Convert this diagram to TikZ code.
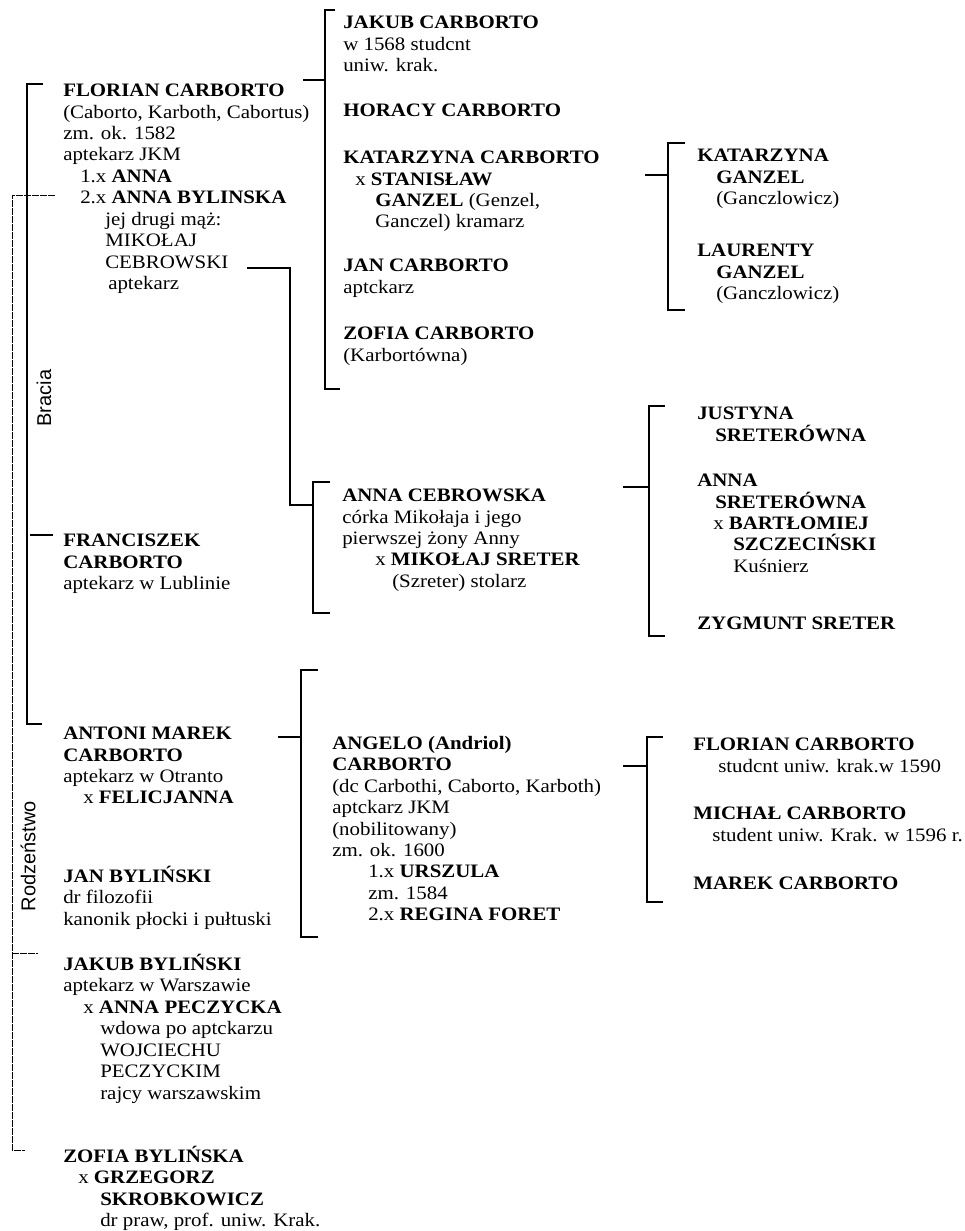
\documentclass[tikz,border=0pt]{standalone}
\usepackage{fontspec}
\setmainfont{Liberation Serif}[FakeStretch=1.1]
\setsansfont{Liberation Sans}
\usepackage{tikz}

\begin{document}
\begin{tikzpicture}[x=0.75pt, y=-0.75pt,
  person/.style={anchor=north west, inner sep=0pt, align=left, yshift=4.7pt,
    font=\fontsize{14.25}{16.1}\selectfont},
  side/.style={rotate=90, inner sep=0pt, font=\sffamily\fontsize{15}{18}\selectfont},
  line/.style={line width=1pt},
  rodz/.style={line width=0.7pt, dash pattern=on 5pt off 1pt}]
\useasboundingbox (0,0) rectangle (964,1231);

% first column
\node[person] (florian) at (63,90) {\textbf{FLORIAN CARBORTO}\\
  (Caborto, Karboth, Cabortus)\\
  zm. ok. 1582\\
  aptekarz JKM\\
  \hspace*{12.75pt}1.x \textbf{ANNA}\\
  \hspace*{12.75pt}2.x \textbf{ANNA BYLINSKA}\\
  \hspace*{31.5pt}jej drugi mąż:\\
  \hspace*{31.5pt}MIKOŁAJ\\
  \hspace*{31.5pt}CEBROWSKI\\
  \hspace*{33.75pt}aptekarz};
\node[person] (franciszek) at (63,540) {\textbf{FRANCISZEK}\\
  \textbf{CARBORTO}\\
  aptekarz w Lublinie};
\node[person] (antoni) at (63,733) {\textbf{ANTONI MAREK}\\
  \textbf{CARBORTO}\\
  aptekarz w Otranto\\
  \hspace*{15pt}x \textbf{FELICJANNA}};
\node[person] (janB) at (63,872) {\textbf{JAN BYLIŃSKI}\\
  dr filozofii\\
  kanonik płocki i pułtuski};
\node[person] (jakubB) at (63,960) {\textbf{JAKUB BYLIŃSKI}\\
  aptekarz w Warszawie\\
  \hspace*{15pt}x \textbf{ANNA PECZYCKA}\\
  \hspace*{27.75pt}wdowa po aptckarzu\\
  \hspace*{27.75pt}WOJCIECHU\\
  \hspace*{27.75pt}PECZYCKIM\\
  \hspace*{27.75pt}rajcy warszawskim};
\node[person] (zofiaB) at (63,1152) {\textbf{ZOFIA BYLIŃSKA}\\
  \hspace*{11.25pt}x \textbf{GRZEGORZ}\\
  \hspace*{27.75pt}\textbf{SKROBKOWICZ}\\
  \hspace*{27.75pt}dr praw, prof. uniw. Krak.};

% second column
\node[person] (jakub) at (343,22) {\textbf{JAKUB CARBORTO}\\
  w 1568 studcnt\\
  uniw. krak.};
\node[person] (horacy) at (343,110) {\textbf{HORACY CARBORTO}};
\node[person] (katarzyna) at (343,157) {\textbf{KATARZYNA CARBORTO}\\
  \hspace*{9pt}x \textbf{STANISŁAW}\\
  \hspace*{24pt}\textbf{GANZEL} (Genzel,\\
  \hspace*{24pt}Ganczel) kramarz};
\node[person] (jan) at (343,265) {\textbf{JAN CARBORTO}\\
  aptckarz};
\node[person] (zofia) at (343,333) {\textbf{ZOFIA CARBORTO}\\
  (Karbortówna)};
\node[person] (cebrowska) at (342,495) {\textbf{ANNA CEBROWSKA}\\
  córka Mikołaja i jego\\
  pierwszej żony Anny\\
  \hspace*{24.75pt}x \textbf{MIKOŁAJ SRETER}\\
  \hspace*{37.5pt}(Szreter) stolarz};
\node[person] (angelo) at (332,742) {\textbf{ANGELO (Andriol)}\\
  \textbf{CARBORTO}\\
  (dc Carbothi, Caborto, Karboth)\\
  aptckarz JKM\\
  (nobilitowany)\\
  zm. ok. 1600\\
  \hspace*{27pt}1.x \textbf{URSZULA}\\
  \hspace*{27pt}zm. 1584\\
  \hspace*{27pt}2.x \textbf{REGINA FORET}};

% third column
\node[person] (katG) at (697,155) {\textbf{KATARZYNA}\\
  \hspace*{14.25pt}\textbf{GANZEL}\\
  \hspace*{14.25pt}(Ganczlowicz)};
\node[person] (laurenty) at (697,250) {\textbf{LAURENTY}\\
  \hspace*{14.25pt}\textbf{GANZEL}\\
  \hspace*{14.25pt}(Ganczlowicz)};
\node[person] (justyna) at (697,413) {\textbf{JUSTYNA}\\
  \hspace*{13.5pt}\textbf{SRETERÓWNA}};
\node[person] (annaS) at (697,480) {\textbf{ANNA}\\
  \hspace*{13.5pt}\textbf{SRETERÓWNA}\\
  \hspace*{12pt}x \textbf{BARTŁOMIEJ}\\
  \hspace*{27pt}\textbf{SZCZECIŃSKI}\\
  \hspace*{27pt}Kuśnierz};
\node[person] (zygmunt) at (697,623) {\textbf{ZYGMUNT SRETER}};
\node[person] (florianJr) at (693,744) {\textbf{FLORIAN CARBORTO}\\
  \hspace*{18.75pt}studcnt uniw. krak.w 1590};
\node[person] (michal) at (693,813) {\textbf{MICHAŁ CARBORTO}\\
  \hspace*{14.25pt}student uniw. Krak. w 1596 r.};
\node[person] (marek) at (693,883) {\textbf{MAREK CARBORTO}};

% Bracia
\coordinate (brTop) at (27,84);
\coordinate (brMid) at (27,535);
\coordinate (brBot) at (27,724);
\draw[line] (brTop) ++(16,0) -- (brTop) -- (brBot) -- ++(15,0);
\draw[line] (brMid) ++(3,0) -- ++(23,0);
\node[side] (bracia) at (44,398) {Bracia};

% Rodzenstwo
\coordinate (rdTop) at (12,195);
\coordinate (rdMid) at (12,953);
\coordinate (rdBot) at (12,1150);
\draw[rodz] (rdTop) ++(43,0) -- (rdTop) -- (rdBot) -- ++(13,0);
\draw[rodz] (rdMid) -- ++(26,0);
\node[side] (rodzenstwo) at (28,856) {Rodzeństwo};

% children of Florian
\coordinate (flOut) at (303,80);
\coordinate (fkTop) at (325,10);
\coordinate (fkBot) at (325,389);
\draw[line] (fkTop) ++(10,0) -- (fkTop) -- (fkBot) -- ++(15,0);
\draw[line] (flOut) -- (flOut -| fkTop);

% children of Katarzyna
\coordinate (kaOut) at (645,175);
\coordinate (kgTop) at (668,143);
\coordinate (kgBot) at (668,310);
\draw[line] (kgTop) ++(17,0) -- (kgTop) -- (kgBot) -- ++(17,0);
\draw[line] (kaOut) -- (kaOut -| kgTop);

% Cebrowski to his daughter
\coordinate (ceOut) at (247,268);
\coordinate (ceTurn) at (290,268);
\coordinate (cbTop) at (313,482);
\coordinate (cbBot) at (313,613);
\draw[line] (ceOut) -- (ceTurn) -- (ceTurn |- 0,505) -- (cbTop |- 0,505);
\draw[line] (cbTop) ++(17,0) -- (cbTop) -- (cbBot) -- ++(17,0);

% children of Anna Cebrowska
\coordinate (anOut) at (623,487);
\coordinate (srTop) at (649,406);
\coordinate (srBot) at (649,636);
\draw[line] (srTop) ++(16,0) -- (srTop) -- (srBot) -- ++(16,0);
\draw[line] (anOut) -- (anOut -| srTop);

% Antoni to Angelo
\coordinate (amOut) at (278,737);
\coordinate (agTop) at (301,670);
\coordinate (agBot) at (301,937);
\draw[line] (agTop) ++(17,0) -- (agTop) -- (agBot) -- ++(17,0);
\draw[line] (amOut) -- (amOut -| agTop);

% children of Angelo
\coordinate (ngOut) at (623,766);
\coordinate (acTop) at (647,737);
\coordinate (acBot) at (647,902);
\draw[line] (acTop) ++(16,0) -- (acTop) -- (acBot) -- ++(16,0);
\draw[line] (ngOut) -- (ngOut -| acTop);
\end{tikzpicture}
\end{document}
